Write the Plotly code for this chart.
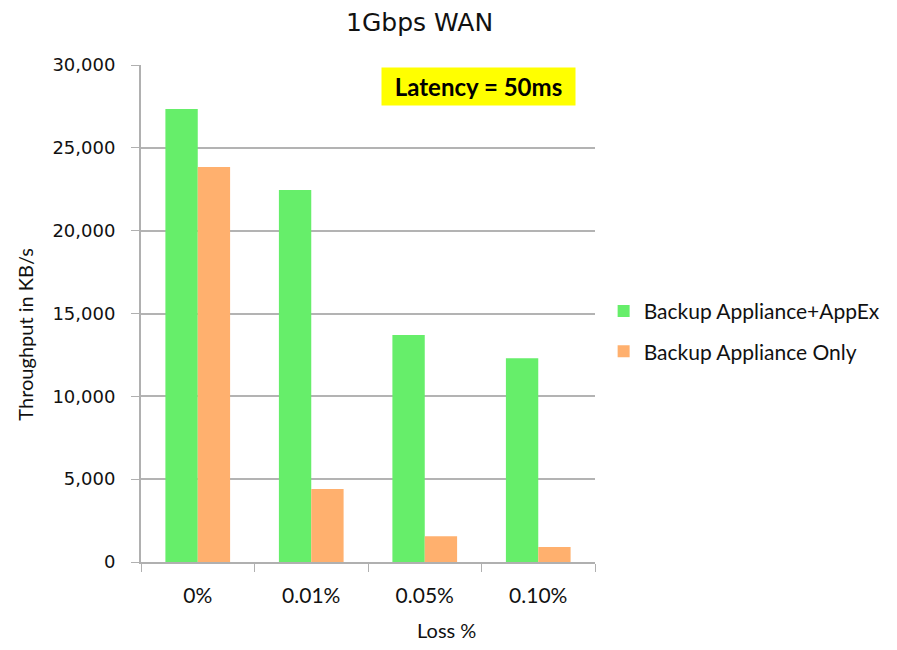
import plotly.graph_objects as go

# data
loss = ["0%", "0.01%", "0.05%", "0.10%"]
appex = [27350, 22450, 13700, 12300]
only = [23850, 4400, 1550, 900]

fig = go.Figure()
fig.add_trace(go.Bar(x=loss, y=appex, name="Backup Appliance+AppEx",
                     marker=dict(color="#66EE6A", line=dict(width=0)),
                     legendgroup="a"))
fig.add_trace(go.Bar(x=loss, y=only, name="Backup Appliance Only",
                     marker=dict(color="#FFB06E", line=dict(width=0)),
                     legendgroup="b"))

# page body has an 8px margin, so the figure is shifted by that much
fig.update_layout(
    width=889, height=642,
    margin=dict(l=133, r=302, t=57, b=88, autoexpand=False),
    paper_bgcolor="white", plot_bgcolor="white",
    barmode="group", bargap=0.43, bargroupgap=0,
    title=dict(text="1Gbps WAN", xref="container", x=0.463, xanchor="center",
               yref="container", y=0.978, yanchor="middle",
               font=dict(family="DejaVu Sans", size=25, color="#111")),
    legend=dict(xref="container", x=0.670, y=0.464, xanchor="left", yanchor="middle",
                font=dict(family="Lato", size=21, color="#111"),
                tracegroupgap=10, itemwidth=30),
    showlegend=True,
)

fig.update_xaxes(
    showgrid=False, tickson="boundaries", ticks="outside", ticklen=8,
    tickcolor="#b0b0b0", showline=True, linecolor="#b0b0b0", linewidth=2,
    tickfont=dict(family="Lato", size=21, color="#111"), ticklabelstandoff=14,
)
fig.update_yaxes(
    range=[0, 30000], tickvals=[0, 5000, 10000, 15000, 20000, 25000, 30000],
    tickformat=",d", showgrid=True, gridcolor="#b3b3b3", gridwidth=2,
    ticks="outside", ticklen=8, tickcolor="#b0b0b0",
    showline=True, linecolor="#b0b0b0", linewidth=2, zeroline=False,
    tickfont=dict(family="DejaVu Sans", size=18, color="#111"), ticklabelstandoff=12,
)

# axis titles
fig.add_annotation(x=0.672, y=-0.137, xref="paper", yref="paper", text="Loss %",
                   xanchor="center", yanchor="middle", showarrow=False,
                   font=dict(family="Lato", size=20, color="#111"))
fig.add_annotation(x=-0.256, y=0.459, xref="paper", yref="paper", text="Throughput in KB/s",
                   xanchor="center", yanchor="middle", textangle=-90, showarrow=False,
                   font=dict(family="Lato", size=20, color="#111"))

fig.add_annotation(
    x=0.958, y=0.957, xref="paper", yref="paper", xanchor="right", yanchor="middle",
    text="<b>Latency = 50ms</b>", showarrow=False,
    font=dict(family="Lato", size=24, color="black"),
    bgcolor="#FFFF00", borderpad=6, width=181, height=25,
)

fig.write_html("out.html")
